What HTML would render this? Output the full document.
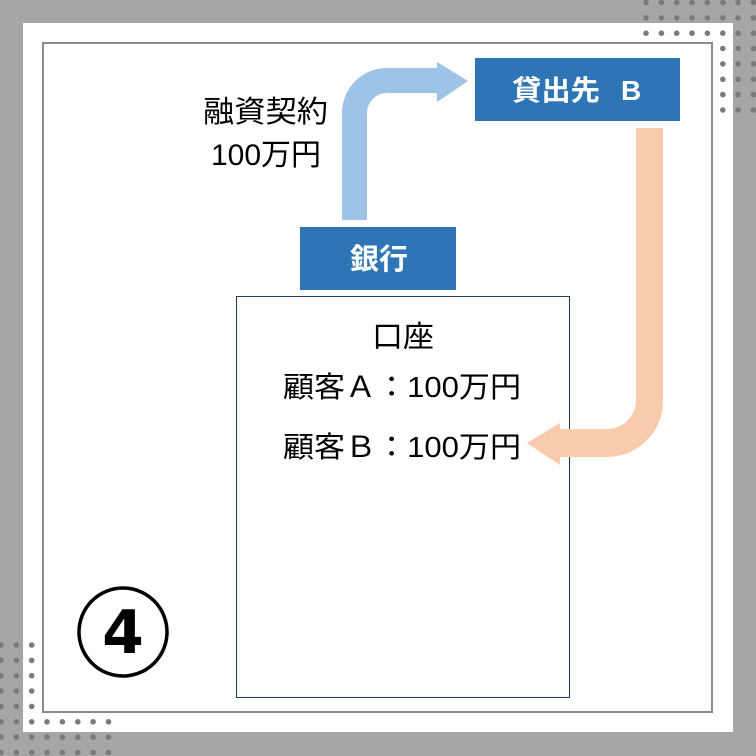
<!DOCTYPE html>
<html><head><meta charset="utf-8"><style>
body{margin:0;width:756px;height:756px;overflow:hidden;background:#a6a6a6;font-family:"Liberation Sans","Noto Sans CJK JP",sans-serif}
</style></head><body>
<svg id="s" width="756" height="756" viewBox="0 0 756 756" xmlns="http://www.w3.org/2000/svg" style="position:absolute;left:0;top:0">
<rect x="23" y="23" width="710" height="709" fill="#fff"/>
<g id="dots" fill="#7a7a7a"></g>
<rect x="43" y="43" width="669" height="669" fill="none" stroke="#8c8c8c" stroke-width="2"/>
<path d="M342 220 V113 A45 45 0 0 1 387 68 H437 V62 L468 81 L437 102 V93 H387 A20 20 0 0 0 367 113 V220 Z" fill="#9dc3e6"/>
<rect x="236.5" y="296.5" width="333" height="401" fill="#fff" stroke="#1f3864" stroke-width="1"/>
<path d="M636 128 V400 A29 29 0 0 1 607 429 H560 V423 L527 443 L560 465 V457 H607 A56 56 0 0 0 663 401 V128 Z" fill="#f8cbad"/>
<rect x="300" y="227" width="156" height="63" fill="#2e75b6"/>
<rect x="475" y="58" width="205" height="63" fill="#2e75b6"/>
<text x="350" y="269" font-size="29" font-weight="bold" fill="#fff" textLength="58" lengthAdjust="spacingAndGlyphs" font-family="Liberation Sans,Noto Sans CJK JP,sans-serif">銀行</text>
<text x="512" y="100" font-size="28" font-weight="bold" fill="#fff" textLength="88" lengthAdjust="spacingAndGlyphs" font-family="Liberation Sans,Noto Sans CJK JP,sans-serif">貸出先</text>
<text x="621" y="100" font-size="28" font-weight="bold" fill="#fff" font-family="Liberation Sans,sans-serif">B</text>
<text x="203" y="122" font-size="30" fill="#000" textLength="125" lengthAdjust="spacingAndGlyphs" font-family="Liberation Sans,Noto Sans CJK JP,sans-serif">融資契約</text>
<text x="211" y="165" font-size="30" fill="#000" textLength="110" lengthAdjust="spacingAndGlyphs" font-family="Liberation Sans,Noto Sans CJK JP,sans-serif">100万円</text>
<text x="372" y="347" font-size="30" fill="#000" textLength="62" lengthAdjust="spacingAndGlyphs" font-family="Liberation Sans,Noto Sans CJK JP,sans-serif">口座</text>
<text x="283" y="397" font-size="29" fill="#000" textLength="238" lengthAdjust="spacingAndGlyphs" font-family="Liberation Sans,Noto Sans CJK JP,sans-serif">顧客Ａ：100万円</text>
<text x="283" y="457" font-size="29" fill="#000" textLength="238" lengthAdjust="spacingAndGlyphs" font-family="Liberation Sans,Noto Sans CJK JP,sans-serif">顧客Ｂ：100万円</text>
<circle cx="123" cy="632" r="44" fill="none" stroke="#000" stroke-width="3.5"/>
<text x="123" y="653" font-size="60" font-weight="bold" fill="#000" text-anchor="middle" font-family="DejaVu Sans,sans-serif">4</text>
</svg>
<script>
var g=document.getElementById('dots'),s='',st=15.35;
function dot(x,y){s+='<circle cx="'+x.toFixed(1)+'" cy="'+y.toFixed(1)+'" r="2.8"/>';}
for(var i=0;i<8;i++)for(var j=0;j<3;j++)dot(646+i*st,2.5+j*st);
for(var i=5;i<8;i++)for(var j=3;j<8;j++)dot(646+i*st,2.5+j*st);
for(var i=0;i<3;i++)for(var j=0;j<8;j++)dot(1+i*st,645+j*st);
for(var i=3;i<8;i++)for(var j=5;j<8;j++)dot(1+i*st,645+j*st);
g.innerHTML=s;
</script>
</body></html>
